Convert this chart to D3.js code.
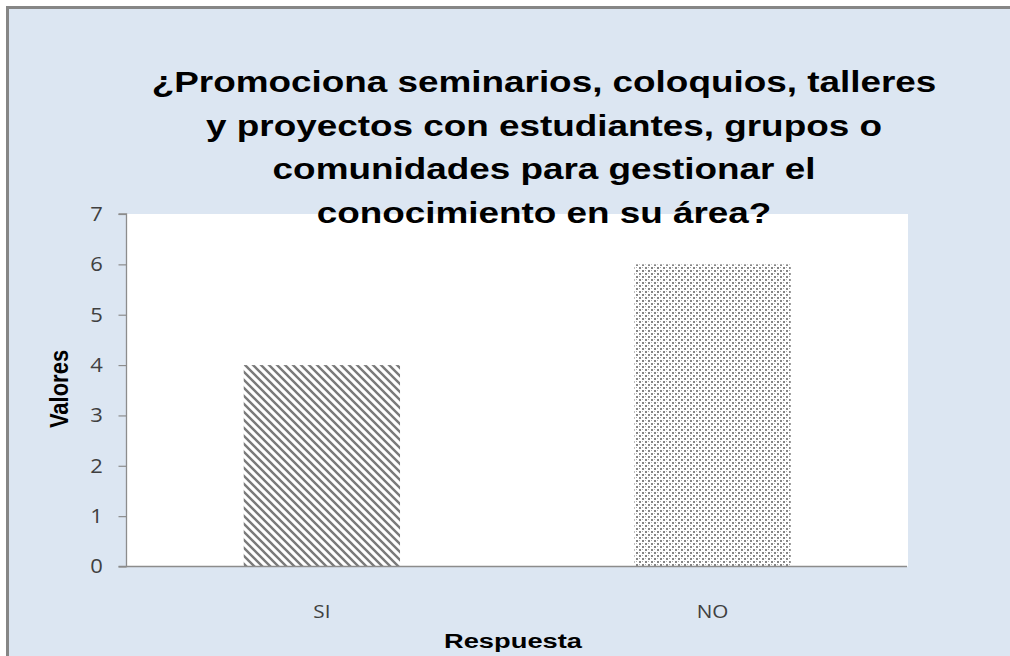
<!DOCTYPE html>
<html><head><meta charset="utf-8">
<script src="https://cdn.jsdelivr.net/npm/d3@7"></script>
<style>
html,body{margin:0;padding:0;background:#fff;}
svg{display:block;}
</style></head>
<body>
<script>
const categories = ["SI", "NO"];
const values = [4, 6];
const yTicks = [0, 1, 2, 3, 4, 5, 6, 7];
const titleLines = ["¿Promociona seminarios, coloquios, talleres", "y proyectos con estudiantes, grupos o", "comunidades para gestionar el", "conocimiento en su área?"];
const xTitle = "Respuesta";
const yTitle = "Valores";

const W = 1010, H = 656;
const SX = 1.25; // horizontal stretch of the original picture
const svg = d3.select("body").append("svg").attr("width", W).attr("height", H);
const defs = svg.append("defs");

// patterns
const hatch = defs.append("pattern").attr("id", "hatch").attr("patternUnits", "userSpaceOnUse")
  .attr("width", 8).attr("height", 8);
hatch.append("rect").attr("width", 8).attr("height", 8).attr("fill", "#fff");
hatch.append("path").attr("d", "M-2,-2 L10,10 M-2,6 L2,10 M6,-2 L10,2")
  .attr("stroke", "#7a7a7a").attr("stroke-width", 2.4);

const dots = defs.append("pattern").attr("id", "dots").attr("patternUnits", "userSpaceOnUse")
  .attr("width", 6).attr("height", 6);
dots.append("rect").attr("width", 6).attr("height", 6).attr("fill", "#fff");
dots.append("rect").attr("x", 0).attr("y", 0).attr("width", 2).attr("height", 2).attr("fill", "#858585");
dots.append("rect").attr("x", 3).attr("y", 3).attr("width", 2).attr("height", 2).attr("fill", "#858585");
dots.append("rect").attr("x", 3).attr("y", 0).attr("width", 1).attr("height", 1).attr("fill", "#b0b0b0");
dots.append("rect").attr("x", 0).attr("y", 3).attr("width", 1).attr("height", 1).attr("fill", "#b0b0b0");

// background
svg.append("rect").attr("width", W).attr("height", H).attr("fill", "#fff");
svg.append("rect").attr("x", 8).attr("y", 8).attr("width", W - 8).attr("height", H - 8).attr("fill", "#dce6f2");
svg.append("path").attr("d", `M7.5,${H} L7.5,7.5 L${W},7.5`).attr("fill", "none").attr("stroke", "#868686").attr("stroke-width", 3);

const plot = {left: 126.5, top: 214, right: 908, bottom: 566.5};
svg.append("rect").attr("x", plot.left).attr("y", plot.top)
  .attr("width", plot.right - plot.left).attr("height", plot.bottom - plot.top).attr("fill", "#fff");

const x = d3.scaleBand().domain(categories).range([plot.left, plot.right]).paddingInner(0.6).paddingOuter(0.3);
const y = d3.scaleLinear().domain([0, 7]).range([plot.bottom, plot.top]);

const patterns = ["url(#hatch)", "url(#dots)"];
svg.selectAll("rect.bar").data(categories).join("rect").attr("class", "bar")
  .attr("x", d => x(d)).attr("width", x.bandwidth())
  .attr("y", (d, i) => y(values[i])).attr("height", (d, i) => y(0) - y(values[i]))
  .attr("fill", (d, i) => patterns[i]);

// y axis
const yAxis = d3.axisLeft(y).tickValues(yTicks).tickFormat(d3.format("d")).tickSize(8).tickPadding(16);
const gy = svg.append("g").attr("transform", `translate(${plot.left},0)`).call(yAxis);
gy.select(".domain").attr("stroke", "#8c8c8c").attr("stroke-width", 1.3).attr("d", `M-8,${plot.top}H0V${plot.bottom}H-8`);
gy.selectAll(".tick line").attr("stroke", "#8c8c8c").attr("stroke-width", 1.2);
gy.selectAll(".tick text").attr("font-family", "Open Sans, sans-serif").attr("font-size", 20).attr("fill", "#404040")
  .attr("x", null).attr("text-anchor", "middle").attr("transform", `translate(-30,0) scale(1.1,1)`);

// x axis
const xAxis = d3.axisBottom(x).tickSize(0).tickPadding(0);
const gx = svg.append("g").attr("transform", `translate(0,${plot.bottom})`).call(xAxis);
gx.select(".domain").attr("stroke", "#8c8c8c").attr("stroke-width", 1.5).attr("d", `M${plot.left},0H${plot.right - 1}`);
gx.selectAll(".tick text").attr("font-family", "Open Sans, sans-serif").attr("font-size", 18).attr("fill", "#404040")
  .attr("y", null).attr("dy", null).attr("transform", `translate(0,51) scale(1.15,1)`);

// titles
function stretchedText(cx, cy, size, str, k) {
  return svg.append("text").attr("transform", `translate(${cx},${cy}) scale(${k},1)`).attr("text-anchor", "middle")
    .attr("font-family", "Liberation Sans, Arial, sans-serif").attr("font-weight", "bold").attr("font-size", size)
    .attr("fill", "#000").text(str);
}
stretchedText(513, 648, 21, xTitle, 1.3);
svg.append("text").attr("transform", `translate(68,389) rotate(-90) scale(1,1.15)`).attr("text-anchor", "middle")
  .attr("font-family", "Liberation Sans, Arial, sans-serif").attr("font-weight", "bold").attr("font-size", 22)
  .attr("fill", "#000").text(yTitle);

titleLines.forEach((l, i) => {
  stretchedText(544, 92 + i * 43.5, 29.5, l, SX);
});
</script>
</body></html>
